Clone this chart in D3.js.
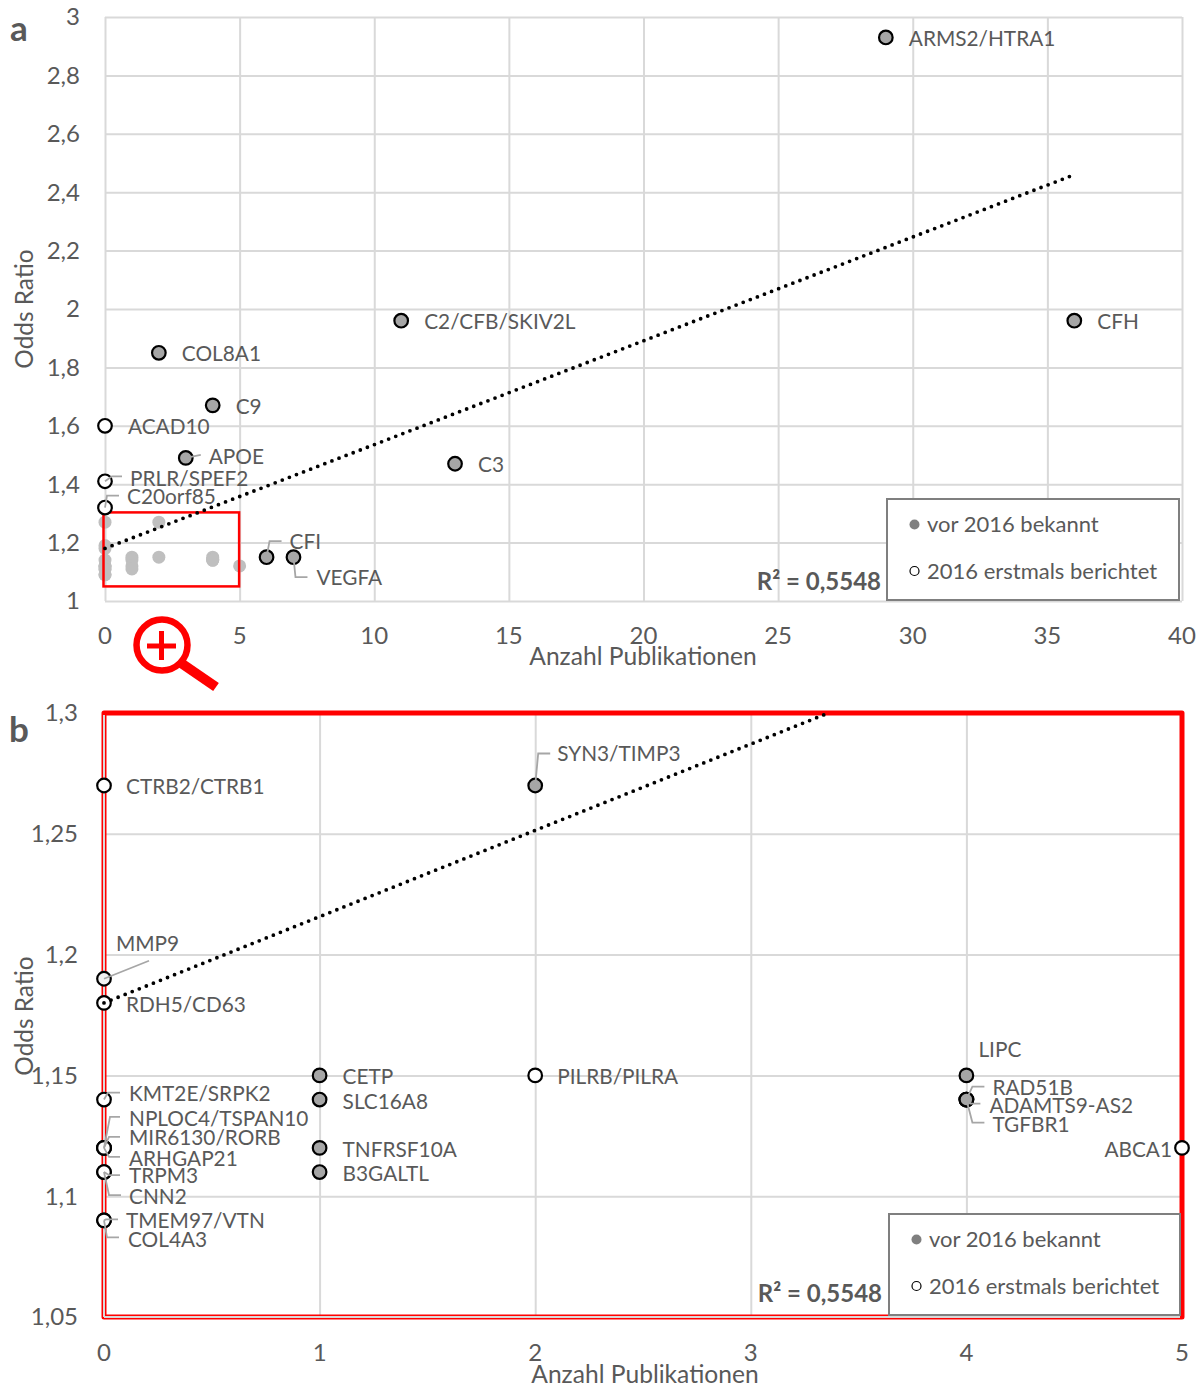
<!DOCTYPE html>
<html>
<head>
<meta charset="utf-8">
<title>Odds Ratio / Anzahl Publikationen</title>
<script src="https://cdn.jsdelivr.net/npm/d3@7"></script>
<style>
  html, body { margin: 0; padding: 0; background: #fff; }
  svg { display: block; }
  text { font-family: Lato, "Open Sans", sans-serif; fill: #595959; }
</style>
</head>
<body>
<div id="chart"></div>
<script>
// Panel a
const genesA = ['ARMS2/HTRA1', 'C2/CFB/SKIV2L', 'CFH', 'COL8A1', 'C9', 'ACAD10', 'APOE', 'PRLR/SPEF2', 'C20orf85', 'C3', 'CFI', 'VEGFA'];
const pubsA = [29, 11, 36, 2, 4, 0, 3, 0, 0, 13, 6, 7];
const oddsA = [2.93, 1.96, 1.96, 1.85, 1.67, 1.6, 1.49, 1.41, 1.32, 1.47, 1.15, 1.15];
const knownA = [true, true, true, true, true, false, true, false, false, true, true, true];
const xTicksA = [0, 5, 10, 15, 20, 25, 30, 35, 40];
const yTicksA = [1, 1.2, 1.4, 1.6, 1.8, 2, 2.2, 2.4, 2.6, 2.8, 3];
const trendXA = [0, 36];
const trendYA = [1.18, 2.46];

// Panel b (also the pale spots in the red box of panel a)
const genesB = ['CTRB2/CTRB1', 'SYN3/TIMP3', 'MMP9', 'RDH5/CD63', 'CETP', 'SLC16A8', 'TNFRSF10A', 'B3GALTL', 'PILRB/PILRA', 'LIPC', 'RAD51B', 'ADAMTS9-AS2', 'TGFBR1', 'ABCA1', 'KMT2E/SRPK2', 'NPLOC4/TSPAN10', 'MIR6130/RORB', 'ARHGAP21', 'TRPM3', 'CNN2', 'TMEM97/VTN', 'COL4A3'];
const pubsB = [0, 2, 0, 0, 1, 1, 1, 1, 2, 4, 4, 4, 4, 5, 0, 0, 0, 0, 0, 0, 0, 0];
const oddsB = [1.27, 1.27, 1.19, 1.18, 1.15, 1.14, 1.12, 1.11, 1.15, 1.15, 1.14, 1.14, 1.14, 1.12, 1.14, 1.12, 1.12, 1.12, 1.11, 1.11, 1.09, 1.09];
const knownB = [false, true, false, false, true, true, true, true, false, true, true, true, true, false, false, false, false, false, false, false, false, false];
const xTicksB = [0, 1, 2, 3, 4, 5];
const yTicksB = [1.05, 1.1, 1.15, 1.2, 1.25, 1.3];
const trendXB = [0, 3.36];
const trendYB = [1.18, 1.3];

const legendLabels = ['vor 2016 bekannt', '2016 erstmals berichtet'];
const rSquared = 'R² = 0,5548';

// label placement, relative to the point: [dx, dy, leader points...]
const placeA = {
  'ARMS2/HTRA1': [23, 1], 'C2/CFB/SKIV2L': [23, 1], 'CFH': [23, 1], 'COL8A1': [23, 1], 'C9': [23, 1],
  'ACAD10': [23, 1], 'APOE': [23, -1, [15, -3]], 'PRLR/SPEF2': [25, -3, [7, -5], [17, -5]],
  'C20orf85': [22, -11, [2, -12], [14, -12]], 'C3': [23, 1],
  'CFI': [23, -15, [3, -16], [15, -16]], 'VEGFA': [23, 21, [2, 20], [14, 20]]
};
const placeB = {
  'CTRB2/CTRB1': [22, 1], 'SYN3/TIMP3': [22, -32, [3, -32], [15, -32]], 'MMP9': [12, -35, [45, -18]],
  'RDH5/CD63': [22, 2], 'CETP': [23, 1], 'SLC16A8': [23, 2], 'TNFRSF10A': [23, 2], 'B3GALTL': [23, 2],
  'PILRB/PILRA': [22, 1], 'LIPC': [12, -26], 'RAD51B': [26, -12, [6, -13], [18, -13]],
  'ADAMTS9-AS2': [23, 6, [4, 4], [14, 4]], 'TGFBR1': [26, 25, [6, 23], [18, 23]], 'ABCA1': [-10, 2],
  'KMT2E/SRPK2': [25, -6, [4, -7], [16, -7]], 'NPLOC4/TSPAN10': [25, -29, [6, -31], [16, -31]],
  'MIR6130/RORB': [25, -10, [5, -11], [16, -11]], 'ARHGAP21': [25, 11, [5, 9], [16, 9]],
  'TRPM3': [25, 4, [5, 3], [16, 3]], 'CNN2': [25, 25, [5, 23], [17, 23]],
  'TMEM97/VTN': [22, 0, [2, -1], [14, -1]], 'COL4A3': [24, 19, [3, 17], [15, 17]]
};

const width = 1203, height = 1385;
const svg = d3.select('#chart').append('svg').attr('width', width).attr('height', height);
const comma = d => String(d).replace('.', ',');
const GRID = '#d9d9d9';

function drawAxes(g, x, y, xTicks, yTicks, xTickY, yTickX) {
  const [x0, x1] = x.range();
  const [y0, y1] = y.range();

  g.append('g').attr('transform', `translate(0,${y0})`)
    .call(d3.axisBottom(x).tickValues(xTicks).tickSize(y1 - y0).tickPadding(0).tickFormat(comma))
    .call(a => a.select('.domain').remove())
    .call(a => a.selectAll('line').attr('stroke', GRID).attr('stroke-width', 2))
    .call(a => a.selectAll('text').attr('y', xTickY - y0).attr('dx', -0.5).attr('dy', '0.35em').attr('font-size', 24).attr('fill', '#595959'));

  g.append('g').attr('transform', `translate(${x0},-0.5)`)
    .call(d3.axisLeft(y).tickValues(yTicks).tickSize(0).tickPadding(0).tickFormat(comma))
    .call(a => a.select('.domain').remove())
    .call(a => a.selectAll('line').remove())
    .call(a => a.selectAll('text').attr('x', yTickX - x0).attr('dy', '0.35em').attr('font-size', 24).attr('fill', '#595959'));

  g.append('g').attr('transform', `translate(${x0},0)`)
    .call(d3.axisLeft(y).tickValues(yTicks).tickSize(x0 - x1).tickFormat(''))
    .call(a => a.select('.domain').remove())
    .call(a => a.selectAll('line').attr('stroke', GRID).attr('stroke-width', 2));
}

function drawPoints(g, x, y, genes, pubs, odds, known) {
  g.selectAll('.pt').data(genes).enter().append('circle')
    .attr('class', 'pt')
    .attr('cx', (d, i) => x(pubs[i]))
    .attr('cy', (d, i) => y(odds[i]))
    .attr('r', 6.8)
    .attr('fill', (d, i) => known[i] ? '#a6a6a6' : (d === 'MMP9' ? '#f2f2f2' : '#fff'))
    .attr('stroke', '#000')
    .attr('stroke-width', 2.2);
}

function drawTrend(g, x, y, tx, ty) {
  g.append('path')
    .datum(tx.map((v, i) => [v, ty[i]]))
    .attr('fill', 'none')
    .attr('stroke', '#000')
    .attr('stroke-width', 3.8)
    .attr('stroke-linecap', 'round')
    .attr('stroke-dasharray', '0 7.6')
    .attr('d', d3.line().x(d => x(d[0])).y(d => y(d[1])));
}

function drawLabels(g, x, y, genes, pubs, odds, place) {
  genes.forEach((name, i) => {
    const [dx, dy, ...leader] = place[name];
    const px = x(pubs[i]), py = y(odds[i]);
    if (leader.length) {
      g.append('polyline')
        .attr('points', [[0, 0], ...leader].map(p => `${px + p[0]},${py + p[1]}`).join(' '))
        .attr('fill', 'none')
        .attr('stroke', '#a6a6a6')
        .attr('stroke-width', 1.8);
    }
    g.append('text')
      .attr('x', px + dx)
      .attr('y', py + dy)
      .attr('dy', '0.35em')
      .attr('text-anchor', dx < 0 ? 'end' : 'start')
      .attr('font-size', 20.8)
      .text(name);
  });
}

function drawLegend(g, bx, by, bw, bh, r2x, r2y) {
  g.append('text').attr('x', r2x).attr('y', r2y).attr('dy', '0.35em')
    .attr('text-anchor', 'end').attr('font-size', 24).attr('font-weight', 700).text(rSquared);
  g.append('rect').attr('x', bx).attr('y', by).attr('width', bw).attr('height', bh)
    .attr('fill', '#fff').attr('stroke', '#7f7f7f').attr('stroke-width', 2);
  legendLabels.forEach((label, i) => {
    const ly = by + 25.5 + i * 46.5;
    g.append('circle').attr('cx', bx + 27.5).attr('cy', ly).attr('r', i ? 4.5 : 5)
      .attr('fill', i ? '#fff' : '#7f7f7f').attr('stroke', i ? '#000' : 'none').attr('stroke-width', 1.2);
    g.append('text').attr('x', bx + 40).attr('y', ly).attr('dy', '0.35em').attr('font-size', 22).text(label);
  });
}

function axisTitles(g, xTitleX, xTitleY, yTitleY) {
  g.append('text').attr('x', xTitleX).attr('y', xTitleY).attr('dy', '0.35em')
    .attr('text-anchor', 'middle').attr('font-size', 24.6).text('Anzahl Publikationen');
  g.append('text').attr('transform', `translate(24,${yTitleY}) rotate(-90)`).attr('dy', '0.35em')
    .attr('text-anchor', 'middle').attr('font-size', 24.4).text('Odds Ratio');
}

// ============== PANEL A ==============
const xA = d3.scaleLinear().domain([0, 40]).range([105, 1182]);
const yA = d3.scaleLinear().domain([1, 3]).range([601, 17]);
const gA = svg.append('g');
drawAxes(gA, xA, yA, xTicksA, yTicksA, 636, 80);

// pale copies of panel b inside the zoom box
gA.selectAll('.spot').data(genesB).enter().append('circle')
  .attr('class', 'spot')
  .attr('cx', (d, i) => xA(pubsB[i]))
  .attr('cy', (d, i) => yA(oddsB[i]))
  .attr('r', 6.5)
  .attr('fill', '#bfbfbf');

gA.append('rect')
  .attr('x', xA(0) - 1.5).attr('y', yA(1.3) - 1)
  .attr('width', xA(5) - xA(0) + 1).attr('height', yA(1.05) - yA(1.3) + 1)
  .attr('fill', 'none').attr('stroke', '#f00').attr('stroke-width', 2.5);

drawPoints(gA, xA, yA, genesA, pubsA, oddsA, knownA);
drawTrend(gA, xA, yA, trendXA, trendYA);
drawLabels(gA, xA, yA, genesA, pubsA, oddsA, placeA);
drawLegend(gA, 887, 499, 292, 101, 881, 582);
axisTitles(gA, 643, 656, 309);

// magnifier
const lens = svg.append('g').attr('fill', 'none').attr('stroke', '#f00');
lens.append('circle').attr('cx', 162).attr('cy', 645).attr('r', 25.5).attr('stroke-width', 6.5);
lens.append('line').attr('x1', 181).attr('y1', 663).attr('x2', 216).attr('y2', 687).attr('stroke-width', 10);
lens.append('line').attr('x1', 147).attr('y1', 646).attr('x2', 176).attr('y2', 646).attr('stroke-width', 5);
lens.append('line').attr('x1', 161.5).attr('y1', 631).attr('x2', 161.5).attr('y2', 660).attr('stroke-width', 5);

// ============== PANEL B ==============
const xB = d3.scaleLinear().domain([0, 5]).range([104, 1182]);
const yB = d3.scaleLinear().domain([1.05, 1.3]).range([1317, 713]);
const gB = svg.append('g');
drawAxes(gB, xB, yB, xTicksB, yTicksB, 1353, 78);

gB.append('rect')
  .attr('x', xB(0)).attr('y', yB(1.3))
  .attr('width', xB(5) - xB(0)).attr('height', yB(1.05) - yB(1.3))
  .attr('fill', 'none').attr('stroke', '#f00').attr('stroke-width', 5)
  .attr('stroke-linejoin', 'round');
gB.append('line')
  .attr('x1', xB(0)).attr('x2', xB(0)).attr('y1', yB(1.3) + 2).attr('y2', yB(1.05))
  .attr('stroke', GRID).attr('stroke-width', 2);
gB.append('line')
  .attr('x1', xB(0)).attr('x2', xB(5) - 2).attr('y1', yB(1.05)).attr('y2', yB(1.05))
  .attr('stroke', GRID).attr('stroke-width', 2);

drawPoints(gB, xB, yB, genesB, pubsB, oddsB, knownB);
drawTrend(gB, xB, yB, trendXB, trendYB);
drawLabels(gB, xB, yB, genesB, pubsB, oddsB, placeB);
drawLegend(gB, 889, 1214, 291, 101, 882, 1294);
axisTitles(gB, 645, 1374, 1016);

// panel letters
svg.append('text').attr('x', 10).attr('y', 41).attr('font-size', 35).attr('font-weight', 700).text('a');
svg.append('text').attr('x', 9).attr('y', 742).attr('font-size', 35).attr('font-weight', 700).text('b');
</script>
</body>
</html>
